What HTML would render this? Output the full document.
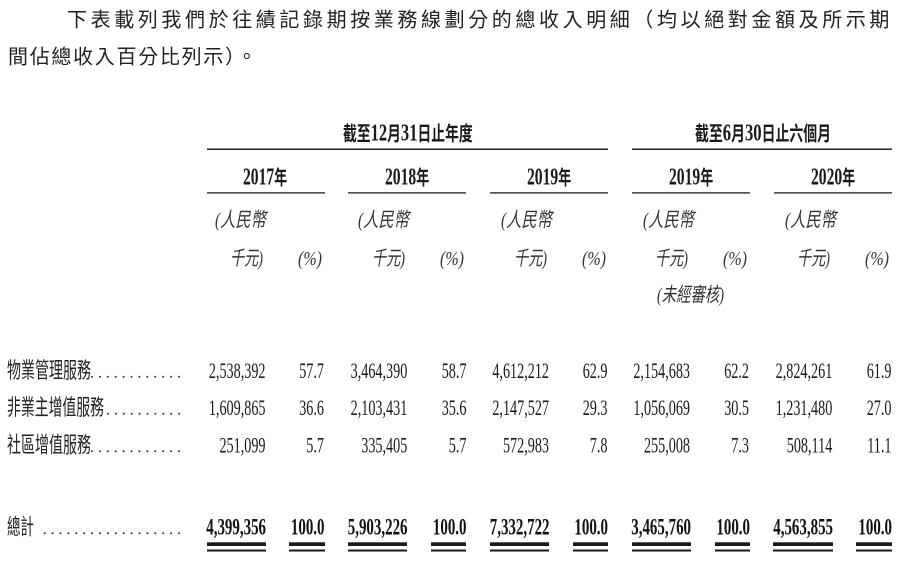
<!DOCTYPE html>
<html>
<head>
<meta charset="utf-8">
<style>
  html,body{margin:0;padding:0;background:#fff;}
  body{width:911px;height:561px;overflow:hidden;}
  svg{display:block;}
  .title{font-family:"Liberation Sans","Noto Sans CJK TC",sans-serif;font-size:20px;fill:#222;}
  .hdr{font-family:"Liberation Serif","Noto Sans CJK TC",serif;font-weight:bold;fill:#1a1a1a;}
  .it{font-family:"Liberation Serif","Noto Sans CJK TC",serif;font-style:italic;font-size:20px;fill:#333;}
  .lbl{font-family:"Liberation Sans","Noto Sans CJK TC",sans-serif;font-size:22px;fill:#222;}
  .num{font-family:"Liberation Serif",serif;font-size:22.5px;fill:#1a1a1a;}
  .tot{font-family:"Liberation Serif",serif;font-size:23px;font-weight:bold;fill:#111;}
</style>
</head>
<body>
<svg width="911" height="561" viewBox="0 0 911 561" xmlns="http://www.w3.org/2000/svg">
  <!-- Title paragraph -->
  <text class="title" x="67" y="26.6" letter-spacing="3.6">下表載列我們於往績記錄期按業務線劃分的總收入明細（均以絕對金額及所示期</text>
  <text class="title" x="8" y="63.5" letter-spacing="1.7">間佔總收入百分比列示）。</text>

  <!-- Group headers -->
  <text class="hdr" font-size="20" transform="translate(343,140.5) scale(0.69,1)">截至<tspan font-size="24">12</tspan>月<tspan font-size="24">31</tspan>日止年度</text>
  <text class="hdr" font-size="20" transform="translate(695,140.5) scale(0.694,1)">截至<tspan font-size="24">6</tspan>月<tspan font-size="24">30</tspan>日止六個月</text>

  <rect x="207" y="148.5" width="401" height="1.4" fill="#111"/>
  <rect x="632" y="148.5" width="260" height="1.4" fill="#111"/>

  <!-- Year headers -->
  <text class="hdr" font-size="20" transform="translate(243,184.5) scale(0.65,1)"><tspan font-size="24">2017</tspan>年</text>
  <text class="hdr" font-size="20" transform="translate(385,184.5) scale(0.65,1)"><tspan font-size="24">2018</tspan>年</text>
  <text class="hdr" font-size="20" transform="translate(527,184.5) scale(0.65,1)"><tspan font-size="24">2019</tspan>年</text>
  <text class="hdr" font-size="20" transform="translate(669,184.5) scale(0.65,1)"><tspan font-size="24">2019</tspan>年</text>
  <text class="hdr" font-size="20" transform="translate(811,184.5) scale(0.65,1)"><tspan font-size="24">2020</tspan>年</text>

  <rect x="207" y="192" width="118" height="1.7" fill="#555"/>
  <rect x="348" y="192" width="118" height="1.7" fill="#555"/>
  <rect x="490" y="192" width="118" height="1.7" fill="#555"/>
  <rect x="632" y="192" width="118" height="1.7" fill="#555"/>
  <rect x="774" y="192" width="118" height="1.7" fill="#555"/>

  <!-- Italic unit headers -->
  <text class="it" x="215" y="226.5" textLength="51" lengthAdjust="spacingAndGlyphs">(人民幣</text>
  <text class="it" x="358" y="226.5" textLength="51" lengthAdjust="spacingAndGlyphs">(人民幣</text>
  <text class="it" x="501" y="226.5" textLength="51" lengthAdjust="spacingAndGlyphs">(人民幣</text>
  <text class="it" x="643" y="226.5" textLength="51" lengthAdjust="spacingAndGlyphs">(人民幣</text>
  <text class="it" x="785" y="226.5" textLength="51" lengthAdjust="spacingAndGlyphs">(人民幣</text>

  <text class="it" x="230" y="265" textLength="33" lengthAdjust="spacingAndGlyphs">千元)</text>
  <text class="it" x="372" y="265" textLength="33" lengthAdjust="spacingAndGlyphs">千元)</text>
  <text class="it" x="514" y="265" textLength="33" lengthAdjust="spacingAndGlyphs">千元)</text>
  <text class="it" x="655" y="265" textLength="33" lengthAdjust="spacingAndGlyphs">千元)</text>
  <text class="it" x="797" y="265" textLength="33" lengthAdjust="spacingAndGlyphs">千元)</text>

  <text class="it" x="298" y="265" textLength="24" lengthAdjust="spacingAndGlyphs">(%)</text>
  <text class="it" x="440" y="265" textLength="24" lengthAdjust="spacingAndGlyphs">(%)</text>
  <text class="it" x="582" y="265" textLength="24" lengthAdjust="spacingAndGlyphs">(%)</text>
  <text class="it" x="723" y="265" textLength="24" lengthAdjust="spacingAndGlyphs">(%)</text>
  <text class="it" x="865" y="265" textLength="24" lengthAdjust="spacingAndGlyphs">(%)</text>

  <text class="it" x="657" y="301.5" textLength="67" lengthAdjust="spacingAndGlyphs">(未經審核)</text>

  <!-- Row labels -->
  <text class="lbl" x="7" y="378" textLength="84" lengthAdjust="spacingAndGlyphs">物業管理服務</text>
  <text class="lbl" x="7" y="415" textLength="97" lengthAdjust="spacingAndGlyphs">非業主增值服務</text>
  <text class="lbl" x="7" y="452.5" textLength="84" lengthAdjust="spacingAndGlyphs">社區增值服務</text>
  <text class="lbl" x="7" y="534.5" textLength="27" lengthAdjust="spacingAndGlyphs">總計</text>

  <!-- Leader dots -->
  <g fill="#333">
    <circle cx="92" cy="376.8" r="1"/><circle cx="99.9" cy="376.8" r="1"/><circle cx="107.8" cy="376.8" r="1"/><circle cx="115.7" cy="376.8" r="1"/><circle cx="123.6" cy="376.8" r="1"/><circle cx="131.5" cy="376.8" r="1"/><circle cx="139.4" cy="376.8" r="1"/><circle cx="147.3" cy="376.8" r="1"/><circle cx="155.2" cy="376.8" r="1"/><circle cx="163.1" cy="376.8" r="1"/><circle cx="171" cy="376.8" r="1"/><circle cx="178.9" cy="376.8" r="1"/>

    <circle cx="108" cy="413.8" r="1"/><circle cx="115.9" cy="413.8" r="1"/><circle cx="123.8" cy="413.8" r="1"/><circle cx="131.7" cy="413.8" r="1"/><circle cx="139.6" cy="413.8" r="1"/><circle cx="147.5" cy="413.8" r="1"/><circle cx="155.4" cy="413.8" r="1"/><circle cx="163.3" cy="413.8" r="1"/><circle cx="171.2" cy="413.8" r="1"/><circle cx="179.1" cy="413.8" r="1"/>

    <circle cx="92" cy="451.3" r="1"/><circle cx="99.9" cy="451.3" r="1"/><circle cx="107.8" cy="451.3" r="1"/><circle cx="115.7" cy="451.3" r="1"/><circle cx="123.6" cy="451.3" r="1"/><circle cx="131.5" cy="451.3" r="1"/><circle cx="139.4" cy="451.3" r="1"/><circle cx="147.3" cy="451.3" r="1"/><circle cx="155.2" cy="451.3" r="1"/><circle cx="163.1" cy="451.3" r="1"/><circle cx="171" cy="451.3" r="1"/><circle cx="178.9" cy="451.3" r="1"/>

    <circle cx="44.7" cy="533.3" r="1"/><circle cx="52.6" cy="533.3" r="1"/><circle cx="60.5" cy="533.3" r="1"/><circle cx="68.4" cy="533.3" r="1"/><circle cx="76.3" cy="533.3" r="1"/><circle cx="84.2" cy="533.3" r="1"/><circle cx="92.1" cy="533.3" r="1"/><circle cx="100" cy="533.3" r="1"/><circle cx="107.9" cy="533.3" r="1"/><circle cx="115.8" cy="533.3" r="1"/><circle cx="123.7" cy="533.3" r="1"/><circle cx="131.6" cy="533.3" r="1"/><circle cx="139.5" cy="533.3" r="1"/><circle cx="147.4" cy="533.3" r="1"/><circle cx="155.3" cy="533.3" r="1"/><circle cx="163.2" cy="533.3" r="1"/><circle cx="171.1" cy="533.3" r="1"/><circle cx="179" cy="533.3" r="1"/>
  </g>

  <!-- Row 1 -->
  <g class="num" text-anchor="end">
    <text transform="translate(265.5,378) scale(0.63,1)">2,538,392</text>
    <text transform="translate(324,378) scale(0.63,1)">57.7</text>
    <text transform="translate(407.3,378) scale(0.63,1)">3,464,390</text>
    <text transform="translate(466.5,378) scale(0.63,1)">58.7</text>
    <text transform="translate(549,378) scale(0.63,1)">4,612,212</text>
    <text transform="translate(607.5,378) scale(0.63,1)">62.9</text>
    <text transform="translate(690,378) scale(0.63,1)">2,154,683</text>
    <text transform="translate(749,378) scale(0.63,1)">62.2</text>
    <text transform="translate(832.3,378) scale(0.63,1)">2,824,261</text>
    <text transform="translate(891.5,378) scale(0.63,1)">61.9</text>
  </g>
  <!-- Row 2 -->
  <g class="num" text-anchor="end">
    <text transform="translate(265.5,415) scale(0.63,1)">1,609,865</text>
    <text transform="translate(324,415) scale(0.63,1)">36.6</text>
    <text transform="translate(407.3,415) scale(0.63,1)">2,103,431</text>
    <text transform="translate(466.5,415) scale(0.63,1)">35.6</text>
    <text transform="translate(549,415) scale(0.63,1)">2,147,527</text>
    <text transform="translate(607.5,415) scale(0.63,1)">29.3</text>
    <text transform="translate(690,415) scale(0.63,1)">1,056,069</text>
    <text transform="translate(749,415) scale(0.63,1)">30.5</text>
    <text transform="translate(832.3,415) scale(0.63,1)">1,231,480</text>
    <text transform="translate(891.5,415) scale(0.63,1)">27.0</text>
  </g>
  <!-- Row 3 -->
  <g class="num" text-anchor="end">
    <text transform="translate(265.5,452.5) scale(0.63,1)">251,099</text>
    <text transform="translate(324,452.5) scale(0.63,1)">5.7</text>
    <text transform="translate(407.3,452.5) scale(0.63,1)">335,405</text>
    <text transform="translate(466.5,452.5) scale(0.63,1)">5.7</text>
    <text transform="translate(549,452.5) scale(0.63,1)">572,983</text>
    <text transform="translate(607.5,452.5) scale(0.63,1)">7.8</text>
    <text transform="translate(690,452.5) scale(0.63,1)">255,008</text>
    <text transform="translate(749,452.5) scale(0.63,1)">7.3</text>
    <text transform="translate(832.3,452.5) scale(0.63,1)">508,114</text>
    <text transform="translate(891.5,452.5) scale(0.63,1)">11.1</text>
  </g>
  <!-- Total row -->
  <g class="tot" text-anchor="end">
    <text transform="translate(266,534.5) scale(0.65,1)">4,399,356</text>
    <text transform="translate(324.5,534.5) scale(0.65,1)">100.0</text>
    <text transform="translate(407.5,534.5) scale(0.65,1)">5,903,226</text>
    <text transform="translate(466.5,534.5) scale(0.65,1)">100.0</text>
    <text transform="translate(549.5,534.5) scale(0.65,1)">7,332,722</text>
    <text transform="translate(608,534.5) scale(0.65,1)">100.0</text>
    <text transform="translate(691,534.5) scale(0.65,1)">3,465,760</text>
    <text transform="translate(750,534.5) scale(0.65,1)">100.0</text>
    <text transform="translate(833,534.5) scale(0.65,1)">4,563,855</text>
    <text transform="translate(892,534.5) scale(0.65,1)">100.0</text>
  </g>

  <!-- Double underlines -->
  <g fill="#1a1a1a">
    <rect x="207" y="542.3" width="59" height="3.7"/><rect x="207" y="549.5" width="59" height="2"/>
    <rect x="289" y="542.3" width="36" height="3.7"/><rect x="289" y="549.5" width="36" height="2"/>
    <rect x="348" y="542.3" width="59" height="3.7"/><rect x="348" y="549.5" width="59" height="2"/>
    <rect x="431" y="542.3" width="35" height="3.7"/><rect x="431" y="549.5" width="35" height="2"/>
    <rect x="490" y="542.3" width="59" height="3.7"/><rect x="490" y="549.5" width="59" height="2"/>
    <rect x="573" y="542.3" width="35" height="3.7"/><rect x="573" y="549.5" width="35" height="2"/>
    <rect x="632" y="542.3" width="59" height="3.7"/><rect x="632" y="549.5" width="59" height="2"/>
    <rect x="715" y="542.3" width="35" height="3.7"/><rect x="715" y="549.5" width="35" height="2"/>
    <rect x="773" y="542.3" width="60" height="3.7"/><rect x="773" y="549.5" width="60" height="2"/>
    <rect x="856" y="542.3" width="36" height="3.7"/><rect x="856" y="549.5" width="36" height="2"/>
  </g>
</svg>
</body>
</html>
